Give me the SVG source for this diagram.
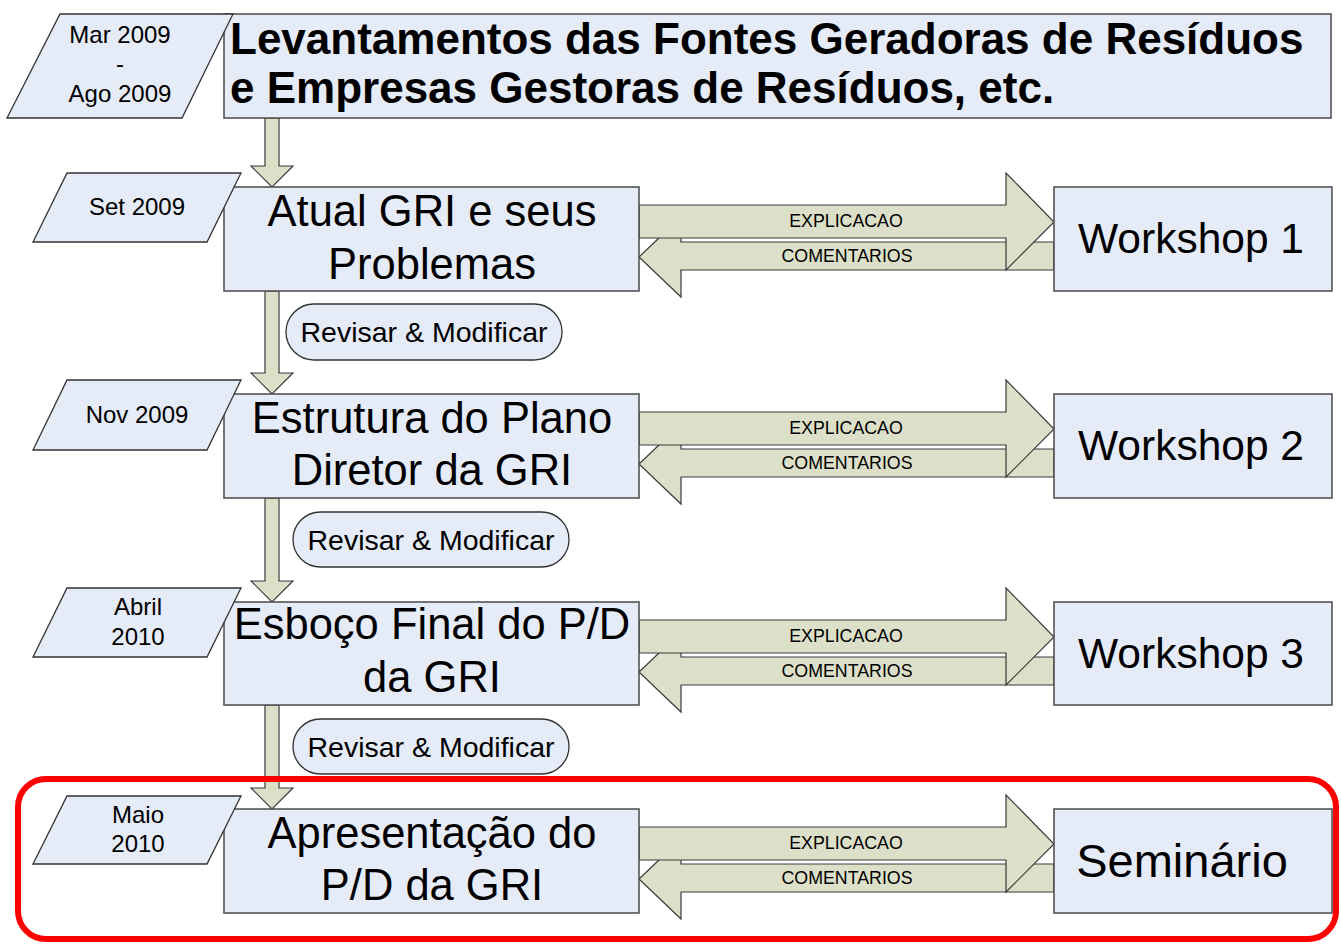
<svg xmlns="http://www.w3.org/2000/svg" width="1341" height="945" viewBox="0 0 1341 945">
<style>
.box{fill:#E5EBF7;stroke:#4A4A4A;stroke-width:1.5}
.date{fill:#E5EBF7;stroke:#333;stroke-width:1.3}
.pill{fill:#E5EBF7;stroke:#333;stroke-width:1.3}
.arr{fill:#DDE0C9;stroke:#3A3A3A;stroke-width:1.2;stroke-linejoin:miter}
text{font-family:"Liberation Sans",Arial,sans-serif;fill:#000}
.big{font-size:43.5px;text-anchor:middle}
.ws{font-size:42.5px;text-anchor:middle}
.title{font-size:44px;font-weight:bold}
.dt{font-size:24px;text-anchor:middle}
.lbl{font-size:17.8px;text-anchor:middle}
.rev{font-size:28.5px;text-anchor:middle}
</style>
<rect width="1341" height="945" fill="#fff"/>
<g id="connectors">
  <polygon class="arr" points="265,118 279,118 279,166 293,166 272,187 251,166 265,166 265,118"/>
  <polygon class="arr" points="265,291 279,291 279,373 293,373 272,394 251,373 265,373 265,291"/>
  <polygon class="arr" points="265,498 279,498 279,581 293,581 272,602 251,581 265,581 265,498"/>
  <polygon class="arr" points="265,705 279,705 279,788 293,788 272,809 251,788 265,788 265,705"/>
  <polygon class="arr" points="1054,242 681,242 681,217 639,257 681,297 681,270 1054,270"/>
  <polygon class="arr" points="639,205 1006,205 1006,173 1054,222 1006,270 1006,238 639,238"/>
  <text class="lbl" x="846" y="227">EXPLICACAO</text>
  <text class="lbl" x="847" y="262">COMENTARIOS</text>
  <polygon class="arr" points="1054,449 681,449 681,424 639,464 681,504 681,477 1054,477"/>
  <polygon class="arr" points="639,412 1006,412 1006,380 1054,429 1006,477 1006,445 639,445"/>
  <text class="lbl" x="846" y="434">EXPLICACAO</text>
  <text class="lbl" x="847" y="469">COMENTARIOS</text>
  <polygon class="arr" points="1054,657 681,657 681,632 639,672 681,712 681,685 1054,685"/>
  <polygon class="arr" points="639,620 1006,620 1006,588 1054,637 1006,685 1006,653 639,653"/>
  <text class="lbl" x="846" y="642">EXPLICACAO</text>
  <text class="lbl" x="847" y="677">COMENTARIOS</text>
  <polygon class="arr" points="1054,864 681,864 681,839 639,879 681,919 681,892 1054,892"/>
  <polygon class="arr" points="639,827 1006,827 1006,795 1054,844 1006,892 1006,860 639,860"/>
  <text class="lbl" x="846" y="849">EXPLICACAO</text>
  <text class="lbl" x="847" y="884">COMENTARIOS</text>
</g>
<g id="title">
  <rect class="box" x="224" y="14" width="1107" height="104"/>
  <text class="title" x="230" y="54">Levantamentos das Fontes Geradoras de Resíduos</text>
  <text class="title" x="230" y="103">e Empresas Gestoras de Resíduos, etc.</text>
</g>
<g id="date0">
  <polygon class="date" points="60,14 233,14 182,118 7,118"/>
  <text class="dt" x="120" y="43">Mar 2009</text>
  <text class="dt" x="120" y="72">-</text>
  <text class="dt" x="120" y="102">Ago 2009</text>
</g>
<g id="step1">
  <rect class="box" x="224" y="187" width="415" height="104"/>
  <text class="big" x="432" y="226">Atual GRI e seus</text>
  <text class="big" x="432" y="279">Problemas</text>
</g>
<g id="date1">
  <polygon class="date" points="67,173 241,173 207,242 33,242"/>
  <text class="dt" x="137" y="215">Set 2009</text>
</g>
<g id="ws1">
  <rect class="box" x="1054" y="187" width="278" height="104"/>
  <text class="ws" x="1191" y="253">Workshop 1</text>
</g>
<g id="rev1">
  <rect class="pill" x="286" y="304" width="276" height="56" rx="28"/>
  <text class="rev" x="424" y="342">Revisar &amp; Modificar</text>
</g>
<g id="step2">
  <rect class="box" x="224" y="394" width="415" height="104"/>
  <text class="big" x="432" y="433">Estrutura do Plano</text>
  <text class="big" x="432" y="485">Diretor da GRI</text>
</g>
<g id="date2">
  <polygon class="date" points="67,380 241,380 207,450 33,450"/>
  <text class="dt" x="137" y="423">Nov 2009</text>
</g>
<g id="ws2">
  <rect class="box" x="1054" y="394" width="278" height="104"/>
  <text class="ws" x="1191" y="460">Workshop 2</text>
</g>
<g id="rev2">
  <rect class="pill" x="293" y="512" width="276" height="55" rx="27.5"/>
  <text class="rev" x="431" y="550">Revisar &amp; Modificar</text>
</g>
<g id="step3">
  <rect class="box" x="224" y="602" width="415" height="103"/>
  <text class="big" x="432" y="639">Esboço Final do P/D</text>
  <text class="big" x="432" y="692">da GRI</text>
</g>
<g id="date3">
  <polygon class="date" points="67,588 241,588 207,657 33,657"/>
  <text class="dt" x="138" y="615">Abril</text>
  <text class="dt" x="138" y="645">2010</text>
</g>
<g id="ws3">
  <rect class="box" x="1054" y="602" width="278" height="103"/>
  <text class="ws" x="1191" y="668">Workshop 3</text>
</g>
<g id="rev3">
  <rect class="pill" x="293" y="719" width="276" height="55" rx="27.5"/>
  <text class="rev" x="431" y="757">Revisar &amp; Modificar</text>
</g>
<g id="step4">
  <rect class="box" x="224" y="809" width="415" height="104"/>
  <text class="big" x="432" y="848">Apresentação do</text>
  <text class="big" x="432" y="900">P/D da GRI</text>
</g>
<g id="date4">
  <polygon class="date" points="67,796 241,796 207,864 33,864"/>
  <text class="dt" x="138" y="823">Maio</text>
  <text class="dt" x="138" y="852">2010</text>
</g>
<g id="seminario">
  <rect class="box" x="1054" y="809" width="278" height="104"/>
  <text class="ws" x="1182" y="877" style="font-size:47px">Seminário</text>
</g>
<g id="highlight">
  <rect x="18" y="779" width="1318" height="160" rx="28" fill="none" stroke="#FF0000" stroke-width="6"/>
</g>
</svg>
